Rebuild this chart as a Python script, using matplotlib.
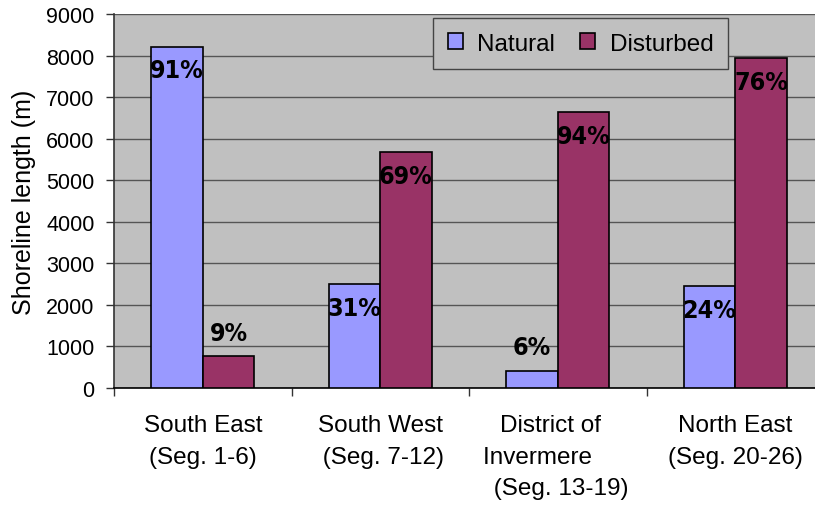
import numpy as np
import matplotlib.pyplot as plt

regions = ["South East\n(Seg. 1-6)",
           "South West\n (Seg. 7-12)",
           "District of  \nInvermere      \n (Seg. 13-19)",
           "North East\n(Seg. 20-26)"]
natural = [8210, 2495, 420, 2445]
disturbed = [760, 5680, 6640, 7935]
natural_pct = ["91%", "31%", "6%", "24%"]
disturbed_pct = ["9%", "69%", "94%", "76%"]

plt.rcParams['font.family'] = ['Liberation Sans', 'DejaVu Sans']

fig = plt.figure(figsize=(8.15, 5.06), dpi=100)
# plot area runs past the right edge of the figure
ax = fig.add_axes([114 / 815, 117 / 506, 710 / 815, 374 / 506])
ax.set_facecolor('#c0c0c0')

x = np.arange(len(regions))
w = 0.29
b1 = ax.bar(x - w / 2, natural, w, color='#9999ff', edgecolor='black',
            linewidth=1.2, label='Natural', zorder=3)
b2 = ax.bar(x + w / 2, disturbed, w, color='#993366', edgecolor='black',
            linewidth=1.2, label='Disturbed', zorder=3)

pct_font = dict(family='DejaVu Sans', stretch='condensed',
                weight='bold', size=18)
for bars, labels in ((b1, natural_pct), (b2, disturbed_pct)):
    for rect, lab in zip(bars, labels):
        h = rect.get_height()
        off = 17 if h < 1000 else -17
        ax.annotate(lab, (rect.get_x() + rect.get_width() / 2, h),
                    xytext=(0, off), textcoords='offset points',
                    ha='center', va='center', zorder=4, **pct_font)

ax.set_xlim(-0.5, len(regions) - 0.5)
ax.set_ylim(0, 9000)
ax.set_yticks(np.arange(0, 9001, 1000))
ax.yaxis.grid(True, color='#555555', linewidth=1.0, zorder=0)

ax.set_xticks(np.arange(len(regions) + 1) - 0.5)
ax.set_xticklabels([])
ax.set_xticks(x, minor=True)
ax.set_xticklabels(regions, minor=True, fontsize=17.5, linespacing=1.55)
ax.tick_params(axis='x', which='major', length=6, width=1, color='#333333')
ax.tick_params(axis='x', which='minor', length=0, pad=19)
ax.tick_params(axis='y', length=6, width=1, color='#333333', pad=8,
               labelsize=15.5)

for s in ('top', 'right'):
    ax.spines[s].set_visible(False)
ax.spines['left'].set_color('#333333')
ax.spines['bottom'].set_color('black')
ax.spines['left'].set_linewidth(1.2)
ax.spines['bottom'].set_linewidth(1.2)

ax.set_ylabel('Shoreline length (m)', fontsize=18, labelpad=7)

leg = ax.legend(loc='upper left', bbox_to_anchor=(433 / 815, 1 - 19 / 506),
                bbox_transform=fig.transFigure, ncol=2, fontsize=17.5,
                frameon=True, fancybox=False, facecolor='#c0c0c0',
                edgecolor='#444444', framealpha=1, handlelength=0.63,
                handleheight=0.63, handletextpad=0.6, columnspacing=1.0,
                borderpad=0.6, borderaxespad=0)
leg.get_frame().set_linewidth(1.0)

fig.savefig('out.png', dpi=100)
